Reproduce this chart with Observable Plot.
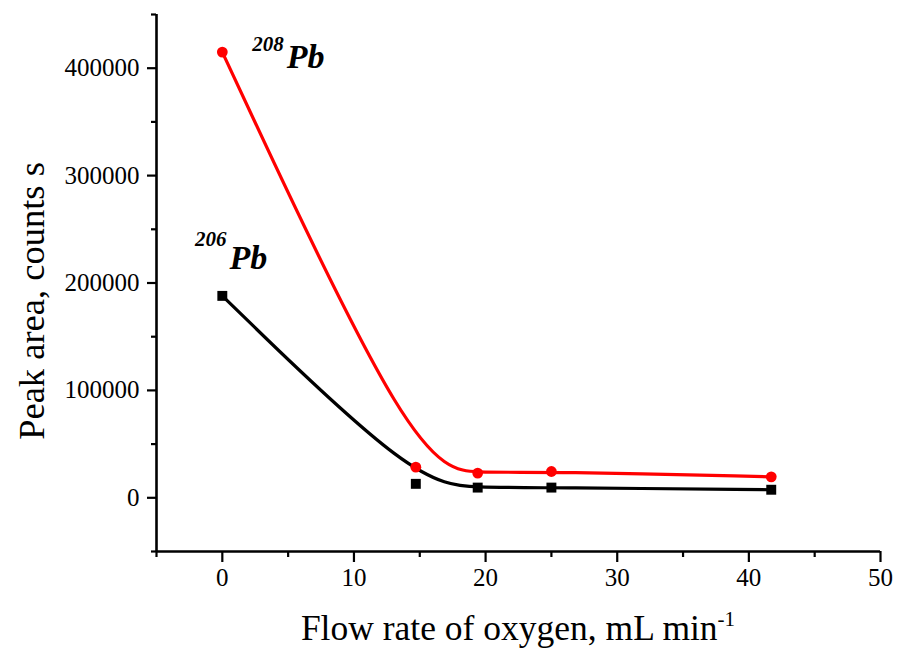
<!DOCTYPE html>
<html><head><meta charset="utf-8">
<script src="https://cdn.jsdelivr.net/npm/d3@7"></script>
<script src="https://cdn.jsdelivr.net/npm/@observablehq/plot@0.6"></script>
<style>
body{margin:0;background:#fff}
svg{display:block}
#chart svg text{font-family:"Liberation Serif","Times New Roman",serif !important}
</style>
</head><body><div id="chart"></div>
<script>
const flowRate = [0, 14.7, 19.4, 25.0, 41.7];
const pb208 = [415000, 28500, 23000, 24500, 19500];
const pb206 = [188000, 13000, 9500, 9500, 7500];
const xTicks = [0, 10, 20, 30, 40, 50];
const xMinorTicks = [-5, 5, 15, 25, 35, 45];
const yTicks = [0, 100000, 200000, 300000, 400000];
const yMinorTicks = [-50000, 50000, 150000, 250000, 350000, 450000];
const isotopeLabels = [
  {mass: "208", symbol: "Pb", x: 4.9, y: 400000, supDy: -17},
  {mass: "206", symbol: "Pb", x: 0.55, y: 213000, supDy: -23}
];
const xTitle = "Flow rate of oxygen, mL min";
const xTitleSup = "-1";
const yTitle = "Peak area, counts s";

const FONT = "Liberation Serif";
const rows208 = flowRate.map((x, i) => ({x, y: pb208[i]}));
const rows206 = flowRate.map((x, i) => ({x, y: pb206[i]}));

const labelMarks = isotopeLabels.flatMap(l => [
  Plot.text([l], {x: "x", y: "y", text: "symbol", textAnchor: "start", lineAnchor: "bottom",
    fontFamily: FONT, fontSize: 34, fontWeight: "bold", fontStyle: "italic", fill: "black"}),
  Plot.text([l], {x: "x", y: "y", text: "mass", textAnchor: "end", lineAnchor: "bottom",
    dx: -3, dy: l.supDy, fontFamily: FONT, fontSize: 21, fontWeight: "bold", fontStyle: "italic", fill: "black"})
]);

const chart = Plot.plot({
  width: 898, height: 656,
  marginLeft: 156, marginRight: 18, marginTop: 14, marginBottom: 105,
  style: {fontFamily: FONT, background: "white", color: "black", overflow: "visible"},
  x: {domain: [-5, 50]},
  y: {domain: [-50000, 450000]},
  marks: [
    Plot.axisX(xTicks, {tickSize: 11, tickPadding: 6, strokeWidth: 2.2, fontSize: 25, label: null, tickFormat: d3.format("d")}),
    Plot.axisX(xMinorTicks, {tickSize: 6, strokeWidth: 2.2, label: null, tickFormat: () => ""}),
    Plot.axisY(yTicks, {tickSize: 9, tickPadding: 8, strokeWidth: 2.2, fontSize: 25, label: null, tickFormat: d3.format("d")}),
    Plot.axisY(yMinorTicks, {tickSize: 5, strokeWidth: 2.2, label: null, tickFormat: () => ""}),
    Plot.ruleX([-5], {strokeWidth: 2.6, stroke: "black"}),
    Plot.ruleY([-50000], {strokeWidth: 2.6, stroke: "black"}),
    Plot.line(rows208, {x: "x", y: "y", curve: "basis", stroke: "#ff0000", strokeWidth: 3.2}),
    Plot.line(rows206, {x: "x", y: "y", curve: "basis", stroke: "black", strokeWidth: 3.2}),
    Plot.dot(rows206, {x: "x", y: "y", symbol: "square", r: 5.6, fill: "black", stroke: "none"}),
    Plot.dot(rows208, {x: "x", y: "y", symbol: "circle", r: 5.4, fill: "#ff0000", stroke: "none"}),
    ...labelMarks
  ]
});

document.getElementById("chart").appendChild(chart);

const svg = d3.select(chart);
const xr = chart.scale("x").range;
const xt = svg.append("text")
  .attr("x", (xr[0] + xr[1]) / 2).attr("y", 640)
  .attr("text-anchor", "middle")
  .attr("font-family", FONT)
  .attr("font-size", 35.5).attr("fill", "black");
xt.append("tspan").text(xTitle);
xt.append("tspan").attr("dy", -14).attr("font-size", 21).text(xTitleSup);

svg.append("text")
  .attr("transform", "translate(44,301) rotate(-90)")
  .attr("text-anchor", "middle")
  .attr("font-family", FONT)
  .attr("font-size", 36.5).attr("fill", "black")
  .text(yTitle);
</script>
</body></html>
